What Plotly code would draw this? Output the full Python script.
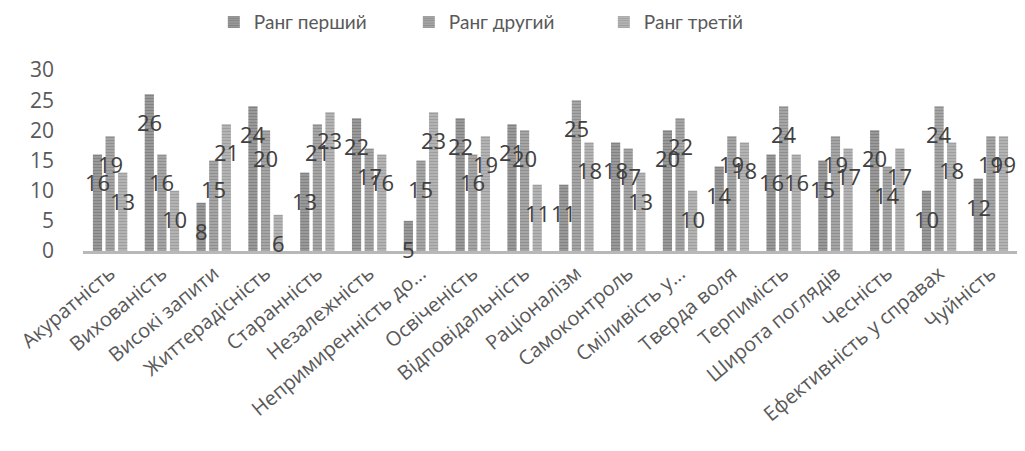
import plotly.graph_objects as go

categories = ["Акуратність", "Вихованість", "Високі запити", "Життерадісність",
              "Старанність", "Незалежність", "Непримиренність до...", "Освіченість",
              "Відповідальність", "Раціоналізм", "Самоконтроль", "Сміливість у...",
              "Тверда воля", "Терпимість", "Широта поглядів", "Чесність",
              "Ефективність у справах", "Чуйність"]
series_names = ["Ранг перший", "Ранг другий", "Ранг третій"]
rank1 = [16, 26, 8, 24, 13, 22, 5, 22, 21, 11, 18, 20, 14, 16, 15, 20, 10, 12]
rank2 = [19, 16, 15, 20, 21, 17, 15, 16, 20, 25, 17, 22, 19, 24, 19, 14, 24, 19]
rank3 = [13, 10, 21, 6, 23, 16, 23, 19, 11, 18, 13, 10, 18, 16, 17, 17, 18, 19]
y_ticks = [0, 5, 10, 15, 20, 25, 30]

series = [rank1, rank2, rank3]
bg_colors = ["#999999", "#a5a5a5", "#b3b3b3"]
fg_colors = ["#6c6c6c", "#7a7a7a", "#8a8a8a"]
bargap = 0.27

fig = go.Figure()
for name, vals, bg, fg in zip(series_names, series, bg_colors, fg_colors):
    fig.add_trace(go.Bar(
        name=name, x=categories, y=vals,
        marker=dict(color=bg, line=dict(width=0),
                    pattern=dict(shape="-", fgcolor=fg, bgcolor=bg, size=3, solidity=0.35)),
    ))

# data labels placed just below the top of each bar
n = len(series)
slot = (1 - bargap) / n
for j, vals in enumerate(series):
    off = (j - (n - 1) / 2) * slot
    for i, v in enumerate(vals):
        fig.add_annotation(x=i + off, y=v, text=str(v), showarrow=False,
                           yshift=-28, xref="x", yref="y",
                           font=dict(family="Open Sans", size=22, color="#404040"))

# page body has an 8px margin, so the figure is sized to fit the rest of the window
fig.update_layout(
    width=1017, height=443,
    margin=dict(l=75, r=7, t=62, b=200, autoexpand=False),
    paper_bgcolor="white", plot_bgcolor="white",
    barmode="group", bargap=bargap, bargroupgap=0.27,
    font=dict(family="Open Sans", color="#595959"),
    legend=dict(orientation="h", xref="container", yref="paper",
                x=0.49, xanchor="center", y=1.265, yanchor="middle",
                font=dict(family="Lato", size=19, color="#595959"),
                entrywidth=150, itemsizing="constant"),
    showlegend=True,
)
fig.update_xaxes(type="category", tickangle=-40, showgrid=False, automargin=False,
                 showline=True, linecolor="#b8b8b8", linewidth=3,
                 ticks="", tickfont=dict(family="Open Sans", size=20, color="#595959"))
fig.update_yaxes(range=[0, 30], tickvals=y_ticks, showgrid=False, zeroline=False,
                 showline=False, ticks="", ticklabelstandoff=28, automargin=False,
                 tickfont=dict(family="Open Sans", size=21, color="#595959"))

fig.write_html("out.html")
